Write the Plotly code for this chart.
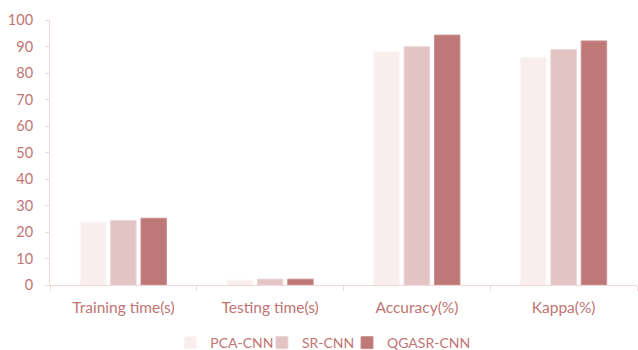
import plotly.graph_objects as go

categories = ["Training time(s)", "Testing time(s)", "Accuracy(%)", "Kappa(%)"]
pca_cnn = [23.5, 1.8, 88.0, 85.9]
sr_cnn = [24.3, 2.2, 89.9, 88.8]
qgasr_cnn = [25.2, 2.2, 94.3, 92.1]
y_ticks = [0, 10, 20, 30, 40, 50, 60, 70, 80, 90, 100]

# name, values, fill, edge, legend id, legend left (paper x)
series = [
    ("PCA-CNN", pca_cnn, "#f8eeee", "#fbf4f4", "legend", 0.205),
    ("SR-CNN", sr_cnn, "#e2c4c4", "#ead3d3", "legend2", 0.361),
    ("QGASR-CNN", qgasr_cnn, "#be7878", "#cc9090", "legend3", 0.506),
]

text_color = "#c07474"
axis_color = "#f0d8d8"
font_family = "Lato, Carlito, 'Open Sans', sans-serif"

fig = go.Figure()
legends = {}
for name, vals, color, edge, leg, lx in series:
    fig.add_trace(go.Bar(
        name=name, x=categories, y=vals, legend=leg,
        marker=dict(color=color, line=dict(color=edge, width=1)),
    ))
    legends[leg] = dict(
        orientation="h", x=lx, xanchor="left", y=-0.219, yanchor="middle",
        font=dict(size=14, color=text_color), itemwidth=30,
        bgcolor="rgba(0,0,0,0)",
    )

fig.update_layout(
    width=638, height=350,
    margin=dict(l=50, r=1, t=20, b=65, autoexpand=False),
    paper_bgcolor="white", plot_bgcolor="white",
    barmode="group", bargap=0.38, bargroupgap=0.16,
    font=dict(family=font_family, color=text_color, size=14),
    showlegend=True,
    xaxis=dict(
        type="category", showline=True, linecolor=axis_color, linewidth=1,
        ticks="outside", tickson="boundaries", ticklen=5, tickcolor=axis_color,
        tickfont=dict(size=15.5, color=text_color), showgrid=False,
        ticklabelstandoff=8,
    ),
    yaxis=dict(
        range=[0, 100], tickvals=y_ticks, showline=True, linecolor=axis_color,
        linewidth=1, ticks="outside", ticklen=4, tickcolor=axis_color,
        showgrid=False, zeroline=False, tickfont=dict(size=14.5, color=text_color),
        ticklabelstandoff=9,
    ),
    **legends,
)

fig.write_html("out.html")
